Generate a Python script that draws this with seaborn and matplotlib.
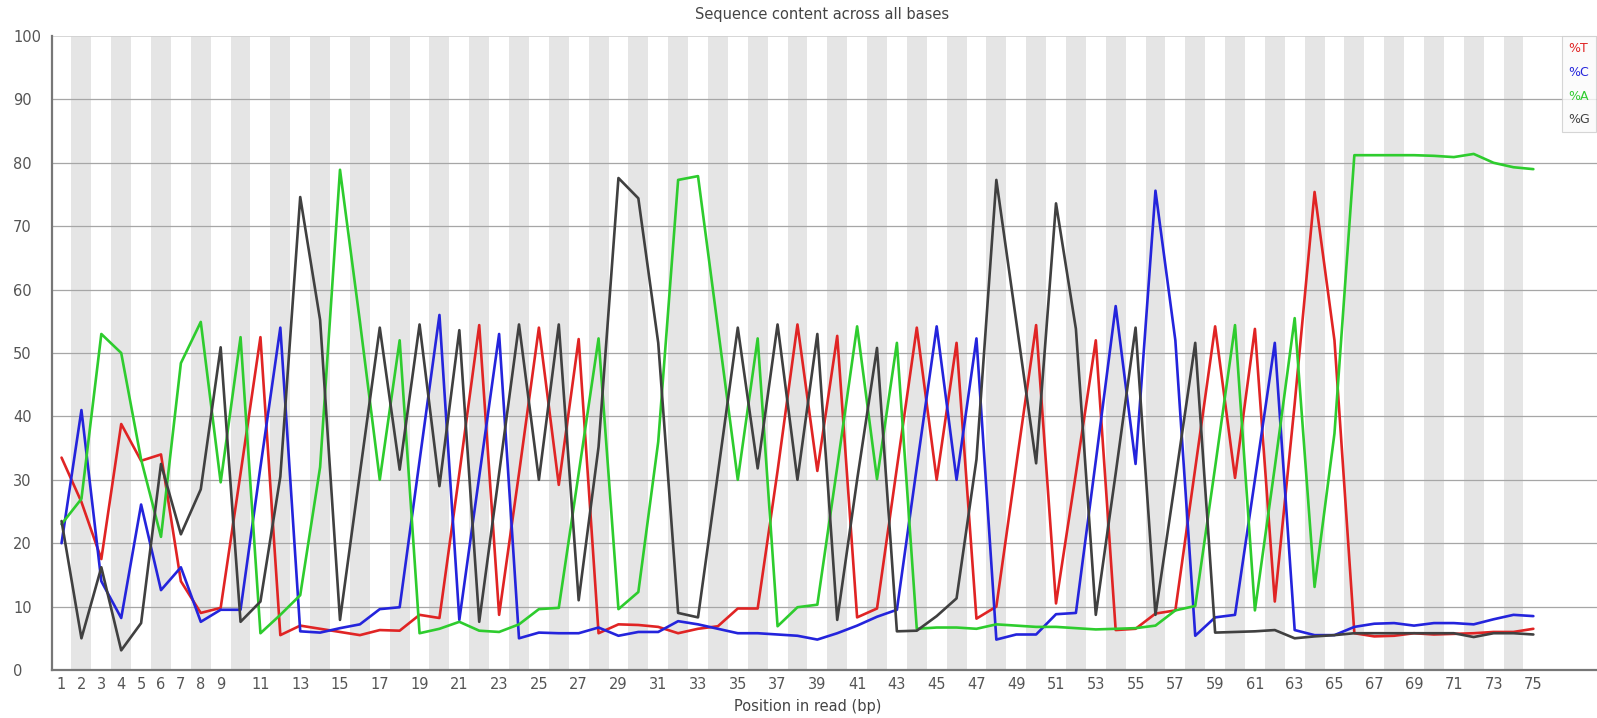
import matplotlib

matplotlib.use("Agg")
import matplotlib.pyplot as plt
import pandas as pd
import seaborn as sns
from matplotlib.lines import Line2D

positions = list(range(1, 76))

pct_t = [33.5, 26.5, 17.5, 38.8, 33, 34, 14, 9, 9.8, 31,
         52.5, 5.5, 7, 6.5, 6, 5.5, 6.3, 6.2, 8.7, 8.2,
         31, 54.4, 8.7, 31, 54, 29.2, 52.2, 5.8, 7.2, 7.1,
         6.8, 5.8, 6.5, 6.9, 9.7, 9.7, 31.4, 54.5, 31.4, 52.7,
         8.3, 9.7, 31.9, 54, 30, 51.6, 8.1, 10, 32.3, 54.4,
         10.5, 31, 52, 6.3, 6.5, 8.9, 9.4, 31.8, 54.2, 30.3,
         53.8, 10.8, 42, 75.4, 52, 5.8, 5.3, 5.4, 5.8, 5.6,
         5.7, 5.8, 6, 6, 6.5]
pct_c = [20, 41, 14, 8.2, 26.1, 12.6, 16.2, 7.6, 9.5, 9.5,
         32, 54, 6.1, 5.9, 6.6, 7.2, 9.6, 9.9, 33, 56,
         7.9, 30.5, 53, 5, 5.9, 5.8, 5.8, 6.7, 5.4, 6,
         6, 7.7, 7.2, 6.5, 5.8, 5.8, 5.6, 5.4, 4.8, 5.8,
         7, 8.4, 9.5, 32, 54.2, 30, 52.3, 4.8, 5.6, 5.6,
         8.8, 9, 33, 57.4, 32.5, 75.6, 52, 5.4, 8.3, 8.7,
         30, 51.6, 6.3, 5.5, 5.5, 6.8, 7.3, 7.4, 7, 7.4,
         7.4, 7.2, 8, 8.7, 8.5]
pct_a = [23, 27, 53, 50, 33.2, 21, 48.4, 54.9, 29.6, 52.5,
         5.8, 8.7, 11.8, 32, 78.9, 55, 30, 52, 5.8, 6.5,
         7.6, 6.2, 6, 7.2, 9.6, 9.8, 31, 52.3, 9.6, 12.3,
         36, 77.3, 77.9, 54, 30, 52.3, 6.9, 9.9, 10.3, 32,
         54.2, 30.1, 51.6, 6.5, 6.7, 6.7, 6.5, 7.2, 7, 6.8,
         6.8, 6.6, 6.4, 6.5, 6.6, 7, 9.4, 10.1, 32, 54.4,
         9.4, 32, 55.5, 13.1, 37.3, 81.2, 81.2, 81.2, 81.2, 81.1,
         80.9, 81.4, 80, 79.3, 79]
pct_g = [23.5, 5, 16.2, 3.1, 7.4, 32.5, 21.4, 28.5, 50.9, 7.6,
         10.8, 30.5, 74.6, 55.2, 7.9, 31, 54, 31.6, 54.5, 29,
         53.6, 7.6, 31, 54.5, 30, 54.5, 11, 35.2, 77.6, 74.4,
         51.6, 9, 8.3, 31, 54, 31.8, 54.5, 30, 53, 7.9,
         30, 50.8, 6.1, 6.2, 8.5, 11.3, 33.2, 77.3, 55, 32.6,
         73.6, 53.8, 8.7, 31, 54, 8.7, 30, 51.6, 5.9, 6,
         6.1, 6.3, 5, 5.3, 5.5, 5.8, 5.8, 5.8, 5.8, 5.8,
         5.8, 5.2, 5.8, 5.8, 5.6]

series_names = ["%T", "%C", "%A", "%G"]
series_colors = ["#e02424", "#2424dc", "#2ecc2e", "#404040"]
x_tick_labels = list(range(1, 10)) + list(range(11, 76, 2))
y_tick_labels = list(range(0, 101, 10))

W, H = 1597, 718

df = pd.DataFrame({"position": positions, "%T": pct_t, "%C": pct_c,
                   "%A": pct_a, "%G": pct_g})
long_df = df.melt(id_vars="position", var_name="base", value_name="percent")

sns.set_style("white")
plt.rcParams["font.family"] = ["DejaVu Sans"]

fig = plt.figure(figsize=(W / 100, H / 100), dpi=100)
ax = fig.add_axes([52 / W, 1 - 670 / H, (W - 52) / W, (670 - 36) / H])

# alternating position bands, even positions shaded
for p in positions:
    if p % 2 == 0:
        ax.axvspan(p - 0.5, p + 0.5, color="#e5e5e5", lw=0, zorder=0)
for y in y_tick_labels[1:-1]:
    ax.axhline(y, color="#a6a6a6", lw=0.9, zorder=1)
ax.axhline(100, color="#d0d0d0", lw=1.2, zorder=1)

sns.lineplot(data=long_df, x="position", y="percent", hue="base",
             hue_order=series_names, palette=series_colors, lw=1.9,
             legend=False, ax=ax, zorder=3)

ax.set_xlim(0.52, 78.2)
ax.set_ylim(0, 100)
ax.set_xticks(x_tick_labels)
ax.set_yticks(y_tick_labels)
ax.set_xlabel("")
ax.set_ylabel("")
ax.tick_params(axis="both", length=0, labelsize=10.5, colors="#555555")
ax.tick_params(axis="x", pad=5)
ax.tick_params(axis="y", pad=28)
for lab in ax.get_yticklabels():
    lab.set_horizontalalignment("left")

for side in ["top", "right"]:
    ax.spines[side].set_visible(False)
for side in ["left", "bottom"]:
    ax.spines[side].set_color("#777777")
    ax.spines[side].set_linewidth(1.6)

fig.text(822 / W, 1 - 15 / H, "Sequence content across all bases",
         ha="center", va="center", fontsize=10.5, color="#444444")
fig.text(808 / W, 1 - 707 / H, "Position in read (bp)",
         ha="center", va="center", fontsize=10.5, color="#444444")

handles = [Line2D([], [], color=c, lw=0) for c in series_colors]
leg = fig.legend(handles, series_names, loc="upper left",
                 bbox_to_anchor=(1562 / W, 1 - 36 / H), borderaxespad=0,
                 handlelength=0, handletextpad=0, labelcolor=series_colors,
                 fontsize=9, labelspacing=0.85, borderpad=0.5,
                 frameon=True, fancybox=False)
leg.get_frame().set_edgecolor("#cccccc")
leg.get_frame().set_linewidth(0.8)
leg.get_frame().set_facecolor("#fbfbfb")

fig.savefig("out.png", dpi=100)
plt.close(fig)
